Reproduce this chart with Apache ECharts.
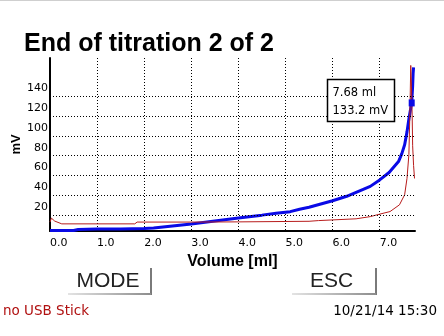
<!DOCTYPE html>
<html>
<head>
<meta charset="utf-8">
<script src="https://cdn.jsdelivr.net/npm/echarts@6/dist/echarts.min.js"></script>
<style>
html,body{margin:0;padding:0;background:#fff;}
#chart{width:444px;height:336px;}
</style>
</head>
<body>
<div id="chart"></div>
<script>
// ---- data ----
const titleText = 'End of titration 2 of 2';
const volumeBlue = [0, 0.5, 0.6, 1.0, 1.5, 2.0, 2.2, 2.5, 3.0, 3.5, 4.0, 4.5, 4.8, 5.1, 5.3, 5.5, 6.0, 6.3, 6.6, 6.8, 7.0, 7.2, 7.4, 7.47, 7.53, 7.58, 7.62, 7.66, 7.68, 7.70, 7.71, 7.72];
const mvBlue     = [4.5, 4.5, 5.5, 6, 6, 6.5, 7, 8.5, 11, 14, 17, 20, 22, 23.5, 26, 28, 34.5, 39, 45, 49, 55.5, 63, 74, 82, 91, 104, 117, 128, 133.2, 150, 163, 169];
const volumeRed  = [0, 0.03, 0.1, 0.25, 1.8, 1.85, 3.0, 4.0, 5.5, 5.7, 6.5, 6.8, 7.0, 7.22, 7.42, 7.53, 7.58, 7.62, 7.64, 7.66, 7.675, 7.69, 7.70, 7.72, 7.74];
const derivRed   = [13, 17, 14, 11.2, 11.2, 13, 13, 13.2, 13.8, 14.5, 16.3, 18.5, 21, 23.6, 30.4, 40.5, 57, 81, 120, 171, 150, 120, 90, 70, 57];
const yGridValues = [20, 40, 60, 80, 100, 120, 140];
const markerPoint = [7.68, 133.2];
const markerLines = ['7.68 ml', '133.2 mV'];
const buttonLabels = ['MODE', 'ESC'];
const statusLeft = 'no USB Stick';
const statusRight = '10/21/14 15:30';

const zip = (xs, ys) => xs.map((x, i) => [x, ys[i]]);

const chart = echarts.init(document.getElementById('chart'), null, {renderer: 'canvas'});

function buttonGraphics(label, textX, lineX, lineStartX) {
  return [
    {type: 'text', z: 100, style: {x: textX, y: 281.5, text: label, font: '21px "Liberation Sans"', fill: '#222', verticalAlign: 'middle'}},
    {type: 'line', z: 100, shape: {x1: lineX, y1: 268, x2: lineX, y2: 295}, style: {stroke: '#7a7a7a', lineWidth: 2}},
    {type: 'line', z: 100, shape: {x1: lineStartX, y1: 294, x2: lineX, y2: 294},
      style: {lineWidth: 2, stroke: new echarts.graphic.LinearGradient(0, 0, 1, 0, [{offset: 0, color: '#e6e6e6'}, {offset: 1, color: '#8a8a8a'}])}}
  ];
}

const option = {
  animation: false,
  backgroundColor: '#fff',
  grid: {left: 50, right: 29, top: 58, bottom: 105, containLabel: false},
  xAxis: {
    type: 'value', min: 0, max: 7.75, interval: 1,
    axisLine: {onZero: false, lineStyle: {color: '#000', width: 2}},
    axisTick: {show: false},
    splitLine: {show: true, showMinLine: false, showMaxLine: false, lineStyle: {color: '#000', width: 1, type: [1, 2]}},
    axisLabel: {showMaxLabel: false, formatter: v => v.toFixed(1), align: 'left', margin: 7,
      color: '#000', fontFamily: 'DejaVu Sans', fontSize: 11},
    name: 'Volume [ml]', nameLocation: 'middle', nameGap: 18,
    nameTextStyle: {color: '#000', fontFamily: 'Liberation Sans', fontWeight: 'bold', fontSize: 16}
  },
  yAxis: {
    type: 'value', min: 4, max: 178.5,
    axisLine: {show: true, lineStyle: {color: '#000', width: 2}},
    axisTick: {show: false},
    axisLabel: {show: false},
    splitLine: {show: false},
    name: 'mV', nameLocation: 'middle', nameRotate: 90, nameGap: 27,
    nameTextStyle: {color: '#000', fontFamily: 'Liberation Sans', fontWeight: 'bold', fontSize: 13}
  },
  series: [
    {
      name: 'E', type: 'line', data: zip(volumeBlue, mvBlue), showSymbol: false,
      lineStyle: {color: '#0a0ae6', width: 3}, itemStyle: {color: '#0a0ae6'}, z: 3,
      markLine: {
        silent: true, symbol: ['none', 'none'], animation: false,
        lineStyle: {color: '#000', width: 1, type: [1, 2]},
        label: {show: true, position: 'start', distance: 2, formatter: p => String(p.value) + '\n ',
          color: '#000', fontFamily: 'DejaVu Sans', fontSize: 11, lineHeight: 16},
        emphasis: {disabled: true},
        data: yGridValues.map(v => ({yAxis: v}))
      },
      markPoint: {
        silent: true, symbol: 'rect', symbolSize: [6, 7], label: {show: false},
        itemStyle: {color: '#0a0ae6'},
        data: [{coord: markerPoint}]
      }
    },
    {
      name: 'dE/dV', type: 'line', data: zip(volumeRed, derivRed), showSymbol: false,
      lineStyle: {color: '#b81c1c', width: 1}, itemStyle: {color: '#b81c1c'}, z: 4
    }
  ],
  graphic: [
    {type: 'rect', z: 100, shape: {x: 0, y: 0, width: 444, height: 1}, style: {fill: '#cfcfcf'}},
    {type: 'text', z: 100, style: {x: 24, y: 44, text: titleText, font: 'bold 25px "Liberation Sans"', fill: '#000', verticalAlign: 'middle'}},
    {type: 'rect', z: 100, shape: {x: 327.5, y: 79.5, width: 67, height: 42}, style: {fill: '#fff', stroke: '#000', lineWidth: 1.5}},
    {type: 'text', z: 101, style: {x: 332.5, y: 92.7, text: markerLines[0], font: '11.5px "DejaVu Sans"', fill: '#000', verticalAlign: 'middle'}},
    {type: 'text', z: 101, style: {x: 332.5, y: 111.3, text: markerLines[1], font: '11.5px "DejaVu Sans"', fill: '#000', verticalAlign: 'middle'}},
    ...buttonGraphics(buttonLabels[0], 76.5, 151, 68),
    ...buttonGraphics(buttonLabels[1], 310, 376, 292),
    {type: 'text', z: 100, style: {x: 3, y: 311.7, text: statusLeft, font: '13.5px "DejaVu Sans"', fill: '#b01010', verticalAlign: 'middle'}},
    {type: 'text', z: 100, style: {x: 437, y: 311.7, text: statusRight, font: '13.5px "DejaVu Sans"', fill: '#000', align: 'right', verticalAlign: 'middle'}}
  ]
};
chart.setOption(option);
</script>
</body>
</html>
